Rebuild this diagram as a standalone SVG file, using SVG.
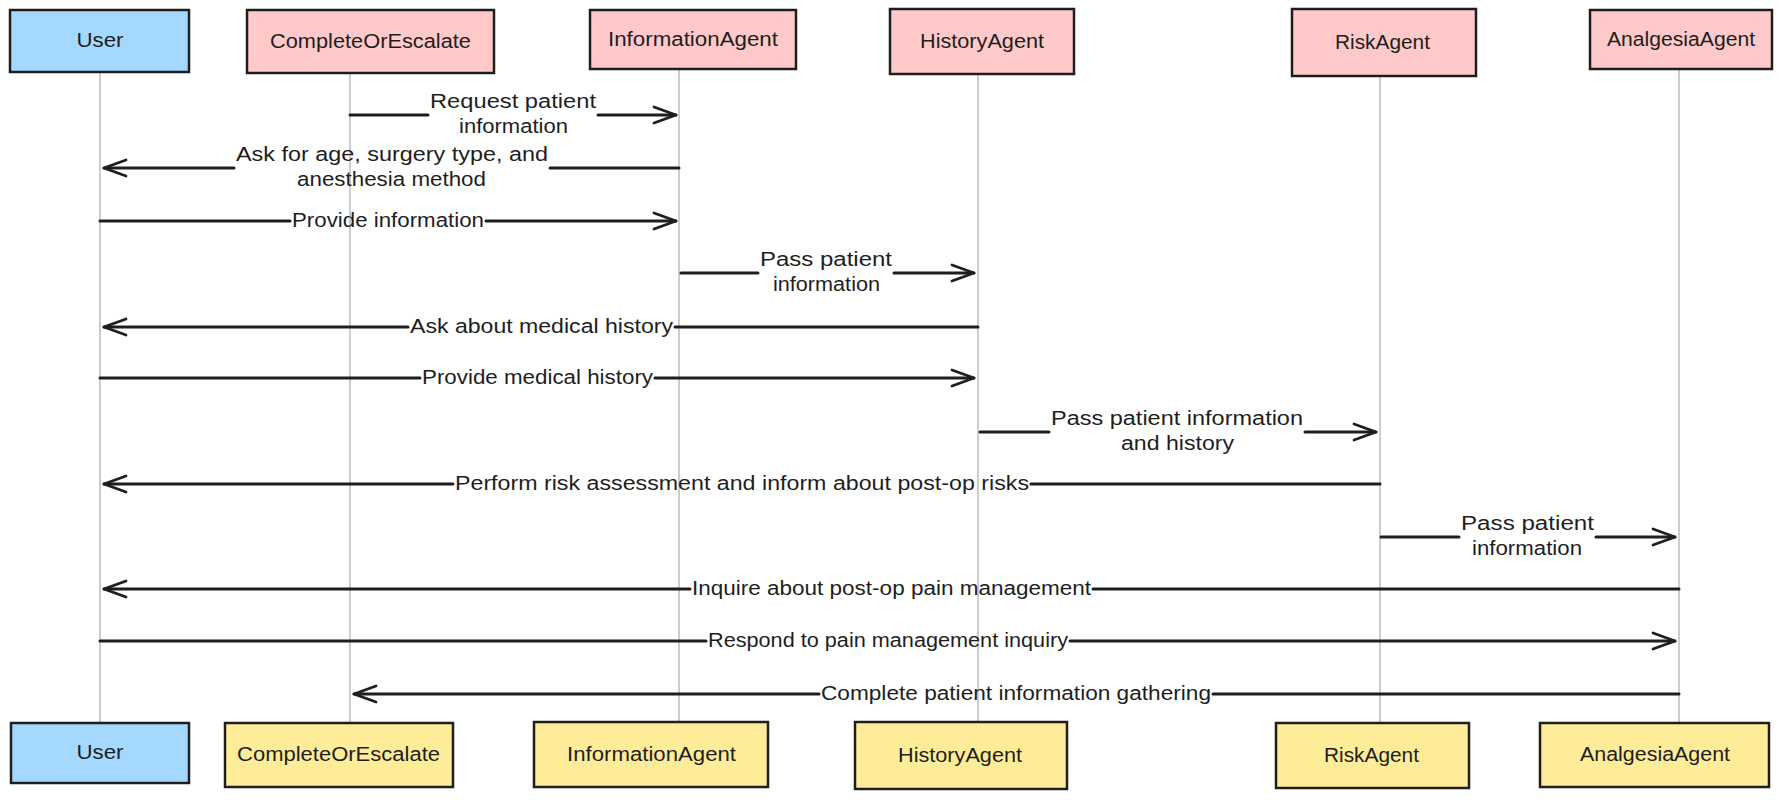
<svg xmlns="http://www.w3.org/2000/svg" width="1782" height="800" viewBox="0 0 1782 800">
<style>
.box{stroke:#1e1e1e;stroke-width:2.5;}
.user{fill:#a5d8ff;}
.agentTop{fill:#ffc9c9;}
.agentBot{fill:#ffec99;}
.nl{font-family:"Liberation Sans",Arial,sans-serif;font-size:20px;fill:#1e1e1e;text-anchor:middle;}
.ml{font-family:"Liberation Sans",Arial,sans-serif;font-size:20px;fill:#1e1e1e;text-anchor:middle;}
.life{stroke:#9a9a9a;stroke-width:1;fill:none;}
.msg{stroke:#1e1e1e;stroke-width:3;fill:none;stroke-linecap:round;}
.head{stroke:#1e1e1e;stroke-width:2.8;fill:none;stroke-linecap:round;stroke-linejoin:round;}
</style>
<rect width="1782" height="800" fill="#ffffff"/>

<g id="lifelines">
<line class="life" x1="100" y1="72" x2="100" y2="723"/>
<line class="life" x1="350" y1="73" x2="350" y2="723"/>
<line class="life" x1="679" y1="69" x2="679" y2="722"/>
<line class="life" x1="978" y1="74" x2="978" y2="722"/>
<line class="life" x1="1380" y1="76" x2="1380" y2="723"/>
<line class="life" x1="1679" y1="69" x2="1679" y2="723"/>
</g>

<g id="node-user-top"><rect class="box user" x="10" y="10" width="179" height="62"/><text class="nl" x="100" y="47" textLength="47" lengthAdjust="spacingAndGlyphs">User</text></g>
<g id="node-coe-top"><rect class="box agentTop" x="247" y="10" width="247" height="63"/><text class="nl" x="370.5" y="48" textLength="201" lengthAdjust="spacingAndGlyphs">CompleteOrEscalate</text></g>
<g id="node-info-top"><rect class="box agentTop" x="590" y="10" width="206" height="59"/><text class="nl" x="693" y="46" textLength="170" lengthAdjust="spacingAndGlyphs">InformationAgent</text></g>
<g id="node-history-top"><rect class="box agentTop" x="890" y="9" width="184" height="65"/><text class="nl" x="982" y="48" textLength="124" lengthAdjust="spacingAndGlyphs">HistoryAgent</text></g>
<g id="node-risk-top"><rect class="box agentTop" x="1292" y="9" width="184" height="67"/><text class="nl" x="1382.5" y="49" textLength="95" lengthAdjust="spacingAndGlyphs">RiskAgent</text></g>
<g id="node-analgesia-top"><rect class="box agentTop" x="1590" y="10" width="182" height="59"/><text class="nl" x="1681" y="46" textLength="148" lengthAdjust="spacingAndGlyphs">AnalgesiaAgent</text></g>

<g id="node-user-bottom"><rect class="box user" x="11" y="723" width="178" height="60"/><text class="nl" x="100" y="759" textLength="47" lengthAdjust="spacingAndGlyphs">User</text></g>
<g id="node-coe-bottom"><rect class="box agentBot" x="225" y="723" width="228" height="64"/><text class="nl" x="338.5" y="761" textLength="203" lengthAdjust="spacingAndGlyphs">CompleteOrEscalate</text></g>
<g id="node-info-bottom"><rect class="box agentBot" x="534" y="722" width="234" height="65"/><text class="nl" x="651.5" y="761" textLength="169" lengthAdjust="spacingAndGlyphs">InformationAgent</text></g>
<g id="node-history-bottom"><rect class="box agentBot" x="855" y="722" width="212" height="67"/><text class="nl" x="960" y="762" textLength="124" lengthAdjust="spacingAndGlyphs">HistoryAgent</text></g>
<g id="node-risk-bottom"><rect class="box agentBot" x="1276" y="723" width="193" height="65"/><text class="nl" x="1371.5" y="762" textLength="95" lengthAdjust="spacingAndGlyphs">RiskAgent</text></g>
<g id="node-analgesia-bottom"><rect class="box agentBot" x="1540" y="723" width="229" height="64"/><text class="nl" x="1655" y="761" textLength="150" lengthAdjust="spacingAndGlyphs">AnalgesiaAgent</text></g>

<g id="connectors">
<!-- 1 CompleteOrEscalate -> InformationAgent -->
<path class="msg" d="M350 115 H428 M598 115 H676"/>
<path class="head" d="M654 107 L676 115 L654 123"/>
<text class="ml" x="513" y="108" textLength="166" lengthAdjust="spacingAndGlyphs">Request patient</text>
<text class="ml" x="513.5" y="133" textLength="109" lengthAdjust="spacingAndGlyphs">information</text>

<!-- 2 InformationAgent -> User -->
<path class="msg" d="M679 168 H550 M234 168 H104"/>
<path class="head" d="M126 160 L104 168 L126 176"/>
<text class="ml" x="392" y="161" textLength="312" lengthAdjust="spacingAndGlyphs">Ask for age, surgery type, and</text>
<text class="ml" x="391.5" y="186" textLength="189" lengthAdjust="spacingAndGlyphs">anesthesia method</text>

<!-- 3 User -> InformationAgent -->
<path class="msg" d="M100 221 H290 M486 221 H676"/>
<path class="head" d="M654 213 L676 221 L654 229"/>
<text class="ml" x="388" y="227" textLength="192" lengthAdjust="spacingAndGlyphs">Provide information</text>

<!-- 4 InformationAgent -> HistoryAgent -->
<path class="msg" d="M681 273 H758 M894 273 H974"/>
<path class="head" d="M952 265 L974 273 L952 281"/>
<text class="ml" x="826" y="266" textLength="132" lengthAdjust="spacingAndGlyphs">Pass patient</text>
<text class="ml" x="826.5" y="291" textLength="107" lengthAdjust="spacingAndGlyphs">information</text>

<!-- 5 HistoryAgent -> User -->
<path class="msg" d="M978 327 H675 M408 327 H104"/>
<path class="head" d="M126 319 L104 327 L126 335"/>
<text class="ml" x="541.5" y="333" textLength="263" lengthAdjust="spacingAndGlyphs">Ask about medical history</text>

<!-- 6 User -> HistoryAgent -->
<path class="msg" d="M100 378 H420 M655 378 H974"/>
<path class="head" d="M952 370 L974 378 L952 386"/>
<text class="ml" x="537.5" y="384" textLength="231" lengthAdjust="spacingAndGlyphs">Provide medical history</text>

<!-- 7 HistoryAgent -> RiskAgent -->
<path class="msg" d="M980 432 H1049 M1305 432 H1376"/>
<path class="head" d="M1354 424 L1376 432 L1354 440"/>
<text class="ml" x="1177" y="425" textLength="252" lengthAdjust="spacingAndGlyphs">Pass patient information</text>
<text class="ml" x="1177.5" y="450" textLength="113" lengthAdjust="spacingAndGlyphs">and history</text>

<!-- 8 RiskAgent -> User -->
<path class="msg" d="M1380 484 H1031 M453 484 H104"/>
<path class="head" d="M126 476 L104 484 L126 492"/>
<text class="ml" x="742" y="490" textLength="574" lengthAdjust="spacingAndGlyphs">Perform risk assessment and inform about post-op risks</text>

<!-- 9 RiskAgent -> AnalgesiaAgent -->
<path class="msg" d="M1381 537 H1459 M1596 537 H1675"/>
<path class="head" d="M1653 529 L1675 537 L1653 545"/>
<text class="ml" x="1527.5" y="530" textLength="133" lengthAdjust="spacingAndGlyphs">Pass patient</text>
<text class="ml" x="1527" y="555" textLength="110" lengthAdjust="spacingAndGlyphs">information</text>

<!-- 10 AnalgesiaAgent -> User -->
<path class="msg" d="M1679 589 H1093 M690 589 H104"/>
<path class="head" d="M126 581 L104 589 L126 597"/>
<text class="ml" x="891.5" y="595" textLength="399" lengthAdjust="spacingAndGlyphs">Inquire about post-op pain management</text>

<!-- 11 User -> AnalgesiaAgent -->
<path class="msg" d="M100 641 H706 M1070 641 H1675"/>
<path class="head" d="M1653 633 L1675 641 L1653 649"/>
<text class="ml" x="888" y="647" textLength="360" lengthAdjust="spacingAndGlyphs">Respond to pain management inquiry</text>

<!-- 12 AnalgesiaAgent -> CompleteOrEscalate -->
<path class="msg" d="M1679 694 H1213 M819 694 H354"/>
<path class="head" d="M376 686 L354 694 L376 702"/>
<text class="ml" x="1016" y="700" textLength="390" lengthAdjust="spacingAndGlyphs">Complete patient information gathering</text>
</g>
</svg>
